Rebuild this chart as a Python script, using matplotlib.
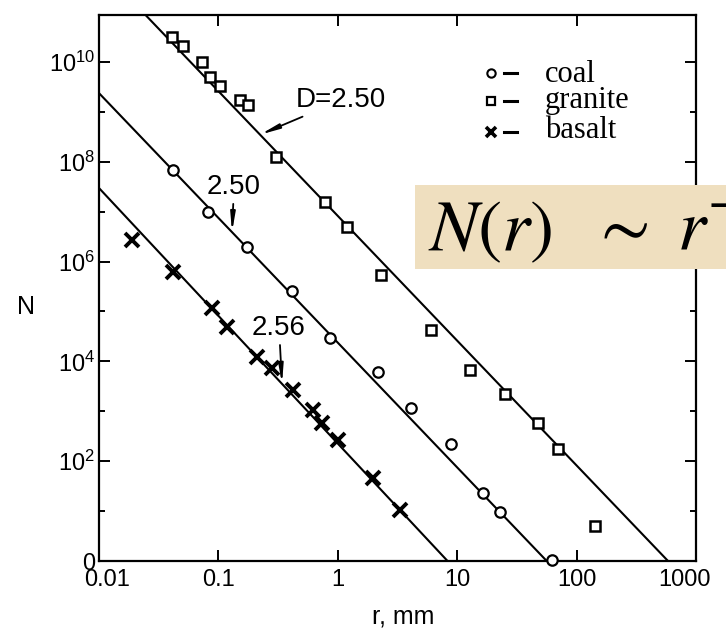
import numpy as np
import matplotlib.pyplot as plt
from matplotlib.patches import Rectangle
from matplotlib.transforms import ScaledTranslation

plt.rcParams["font.family"] = ["Liberation Sans", "DejaVu Sans"]
plt.rcParams["mathtext.default"] = "regular"

# fragment size r (mm) vs cumulative number of fragments N
coal_r = [0.042, 0.082, 0.174, 0.413, 0.861, 2.17, 4.10, 8.87, 16.4, 22.8, 62.2]
coal_N = [6.9e7, 9.8e6, 1.96e6, 2.6e5, 2.95e4, 6.2e3, 1.17e3, 2.2e2, 23, 9.6, 1.05]

granite_r = [0.0408, 0.0506, 0.073, 0.085, 0.103, 0.152, 0.177, 0.303, 0.78,
             1.19, 2.30, 6.04, 12.8, 25.1, 47.5, 69.9, 142.6]
granite_N = [3.2e10, 2.1e10, 1.0e10, 5.0e9, 3.3e9, 1.7e9, 1.4e9, 1.26e8, 1.56e7,
             4.9e6, 5.4e5, 4.3e4, 6.7e3, 2.2e3, 5.8e2, 1.75e2, 5.0]

basalt_r = [0.0189, 0.0417, 0.0883, 0.118, 0.211, 0.281, 0.422, 0.620, 0.738,
            1.0, 1.97, 3.32]
basalt_N = [2.7e6, 6.2e5, 1.18e5, 4.9e4, 1.22e4, 7.4e3, 2.7e3, 1.07e3, 5.8e2,
            2.7e2, 46, 10.5]

# power-law fits N = (r / r1)^-D ; r1 is the size where N drops to 1
fit_names = ["granite", "coal", "basalt"]
fit_D = [2.50, 2.50, 2.56]
fit_r1 = [583.0, 56.2, 8.3]
fit_labels = ["D=2.50", "2.50", "2.56"]
label_r = [0.447, 0.135, 0.322]        # label positions
label_N = [1.7e9, 3.16e7, 4.7e4]
arrow_r = [0.223, 0.130, 0.341]        # where each arrow meets its line

x_ticks = [0.01, 0.1, 1, 10, 100, 1000]
x_ticklabels = ["0.01", "0.1", "1", "10", "100", "1000"]
y_ticks = [1, 1e2, 1e4, 1e6, 1e8, 1e10]
y_ticklabels = ["0", "$10^2$", "$10^4$", "$10^6$", "$10^8$", "$10^{10}$"]


def power_law(r, D, r1):
    return (np.asarray(r) / r1) ** (-D)


fig = plt.figure(figsize=(7.26, 6.29), dpi=100)
ax = fig.add_axes([0.1364, 0.1081, 0.8223, 0.8680])
ax.set_xscale("log")
ax.set_yscale("log")
ax.set_xlim(0.01, 1000)
ax.set_ylim(1, 10 ** 10.94)

# fitted lines
rr = np.logspace(-3, 4, 200)
for D, r1 in zip(fit_D, fit_r1):
    ax.plot(rr, power_law(rr, D, r1), color="black", lw=1.5, zorder=2)

# data
ax.plot(granite_r, granite_N, ls="none", marker="s", ms=7.5, mfc="white",
        mec="black", mew=1.8, zorder=3, clip_on=False)
ax.plot(coal_r, coal_N, ls="none", marker="o", ms=7.5, mfc="white",
        mec="black", mew=1.6, zorder=3, clip_on=False)
ax.plot(basalt_r, basalt_N, ls="none", marker="x", ms=9.5, mec="black",
        mew=2.8, zorder=3)

# slope labels with arrows
for lab, lr, lN, ar, D, r1 in zip(fit_labels, label_r, label_N, arrow_r, fit_D, fit_r1):
    ha = "left" if lab.startswith("D") else "center"
    ax.annotate(lab, xy=(ar, power_law(ar, D, r1)), xytext=(lr, lN),
                ha=ha, va="center", fontsize=20,
                arrowprops=dict(arrowstyle="-|>,head_length=1.0,head_width=0.13",
                                mutation_scale=11, color="black", lw=1.3,
                                shrinkA=1, shrinkB=0))

# legend drawn by hand
leg_y = [0.894, 0.842, 0.786]
leg_text_y = [0.877, 0.830, 0.775]
leg_marks = [("o", 6, 1.5), ("s", 6, 1.6), ("x", 7.5, 2.6)]
leg_names = ["coal", "granite", "basalt"]
for y, ty, (m, s, w), name in zip(leg_y, leg_text_y, leg_marks, leg_names):
    ax.plot([0.657], [y], transform=ax.transAxes, marker=m, ms=s, mfc="white",
            mec="black", mew=w, ls="none")
    ax.plot([0.678, 0.700], [y, y], transform=ax.transAxes, color="black", lw=2.2)
    ax.text(0.747, ty, name, transform=ax.transAxes, fontsize=22,
            family="Liberation Serif", va="baseline", ha="left")

# axes styling
for sp in ax.spines.values():
    sp.set_linewidth(1.6)
ax.set_xticks(x_ticks)
ax.set_xticklabels(x_ticklabels)
ax.xaxis.set_minor_locator(plt.NullLocator())
ax.set_yticks(y_ticks)
ax.set_yticklabels(y_ticklabels)
ax.set_yticks([1e1, 1e3, 1e5, 1e7, 1e9], minor=True)
ax.yaxis.set_minor_formatter(plt.NullFormatter())
ax.tick_params(which="both", direction="in", top=True, right=True, width=1.4,
               labelsize=17, color="black")
ax.tick_params(which="major", length=8, pad=6)
ax.tick_params(which="minor", length=4)
ax.tick_params(axis="y", which="major", pad=3)

# nudge the corner labels so they sit like the printed ones
xl = ax.get_xticklabels()
xl[0].set_transform(xl[0].get_transform() + ScaledTranslation(8 / 100, 0, fig.dpi_scale_trans))
xl[-1].set_transform(xl[-1].get_transform() + ScaledTranslation(-12 / 100, 0, fig.dpi_scale_trans))

ax.set_xlabel("r, mm", fontsize=18)
ax.xaxis.set_label_coords(0.51, -0.08)
ax.set_ylabel("N", fontsize=18, rotation=0, va="center", ha="center")
ax.yaxis.set_label_coords(-0.122, 0.465)

# formula banner (runs off the right edge)
fig.add_artist(Rectangle((415 / 726, 1 - 269 / 629), 311 / 726, 84 / 629,
                         transform=fig.transFigure, facecolor="#EFDFBF",
                         edgecolor="none", zorder=5))
fig.text(428 / 726, 1 - 250 / 629, r"$\mathit{N}\mathrm{(}\mathit{r}\mathrm{)}$",
         fontsize=52, math_fontfamily="stix", ha="left", va="baseline", zorder=6)
fig.text(590 / 726, 1 - 250 / 629, r"$\sim\,\,\mathit{r}^{-}$",
         fontsize=52, math_fontfamily="stix", ha="left", va="baseline", zorder=6)

fig.savefig("out.png", dpi=100)
